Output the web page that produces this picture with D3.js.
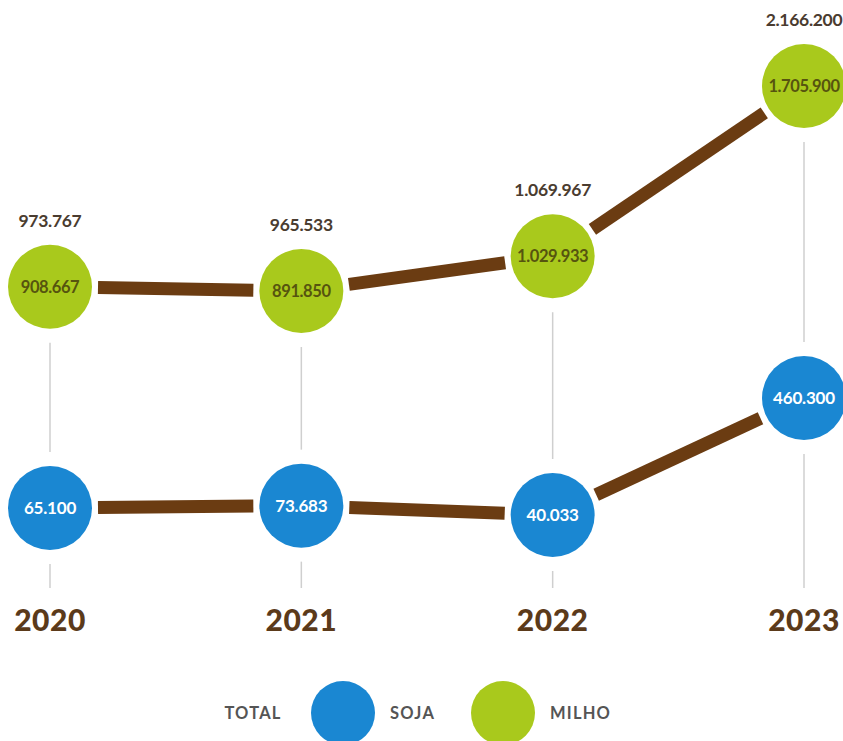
<!DOCTYPE html>
<html>
<head>
<meta charset="utf-8">
<script src="https://cdn.jsdelivr.net/npm/d3@7"></script>
<style>
  html, body { margin: 0; padding: 0; background: #ffffff; }
  svg { display: block; }
  text { font-family: "Lato", "Open Sans", sans-serif; }
</style>
</head>
<body>
<svg id="chart" width="843" height="741"></svg>
<script>
const years = ["2020", "2021", "2022", "2023"];
const soja = [65100, 73683, 40033, 460300];
const milho = [908667, 891850, 1029933, 1705900];
const total = [973767, 965533, 1069967, 2166200];
const legendLabels = ["TOTAL", "SOJA", "MILHO"];

const W = 843, H = 741;
const R = 42;
const colors = { soja: "#1a87d2", milho: "#a9c91c", line: "#6b3c12", year: "#5b3a1a", total: "#4a3c30", milhoText: "#56540f", vline: "#cfcfcf" };

const svg = d3.select("#chart");
const loc = d3.formatLocale({ decimal: ",", thousands: ".", grouping: [3], currency: ["", ""] });
const fmt = loc.format(",d");

const x = d3.scalePoint().domain(years).range([50, 804]);
const yMilho = d3.scaleLinear().domain([891850, 1705900]).range([291, 86]);
const ySoja = d3.scaleLinear().domain([40033, 460300]).range([515, 398]);

const milhoPts = years.map((yr, i) => ({ x: x(yr), y: yMilho(milho[i]), v: milho[i], t: total[i], yr }));
const sojaPts = years.map((yr, i) => ({ x: x(yr), y: ySoja(soja[i]), v: soja[i], yr }));

// vertical guide lines
const gGuides = svg.append("g");
years.forEach((yr, i) => {
  const m = milhoPts[i], s = sojaPts[i];
  gGuides.append("line")
    .attr("x1", m.x).attr("x2", m.x)
    .attr("y1", m.y + R + 14).attr("y2", s.y - R - 14)
    .attr("stroke", colors.vline).attr("stroke-width", 1.5);
  gGuides.append("line")
    .attr("x1", s.x).attr("x2", s.x)
    .attr("y1", s.y + R + 14).attr("y2", 588)
    .attr("stroke", colors.vline).attr("stroke-width", 1.5);
});

// connecting brown segments
function drawSegments(pts) {
  const g = svg.append("g");
  for (let i = 0; i < pts.length - 1; i++) {
    const a = pts[i], b = pts[i + 1];
    const dx = b.x - a.x, dy = b.y - a.y;
    const len = Math.hypot(dx, dy);
    const ux = dx / len, uy = dy / len;
    const gap = R + 6;
    g.append("line")
      .attr("x1", a.x + ux * gap).attr("y1", a.y + uy * gap)
      .attr("x2", b.x - ux * gap).attr("y2", b.y - uy * gap)
      .attr("stroke", colors.line).attr("stroke-width", 13)
      .attr("stroke-linecap", "butt");
  }
}
drawSegments(milhoPts);
drawSegments(sojaPts);

// milho circles
const gM = svg.append("g");
gM.selectAll("circle").data(milhoPts).join("circle")
  .attr("cx", d => d.x).attr("cy", d => d.y).attr("r", R)
  .attr("fill", colors.milho);
gM.selectAll("text.val").data(milhoPts).join("text")
  .attr("class", "val")
  .attr("x", d => d.x).attr("y", d => d.y + 6)
  .attr("text-anchor", "middle")
  .attr("font-size", 16.5).attr("font-weight", 700)
  .attr("letter-spacing", -0.4)
  .attr("fill", colors.milhoText)
  .text(d => fmt(d.v));
gM.selectAll("text.tot").data(milhoPts).join("text")
  .attr("class", "tot")
  .attr("x", d => d.x).attr("y", d => d.y - 60)
  .attr("text-anchor", "middle")
  .attr("font-size", 17.5).attr("font-weight", 700)
  .attr("letter-spacing", -0.3)
  .attr("fill", colors.total)
  .text(d => fmt(d.t));

// soja circles
const gS = svg.append("g");
gS.selectAll("circle").data(sojaPts).join("circle")
  .attr("cx", d => d.x).attr("cy", d => d.y).attr("r", R)
  .attr("fill", colors.soja);
gS.selectAll("text").data(sojaPts).join("text")
  .attr("x", d => d.x).attr("y", d => d.y + 6)
  .attr("text-anchor", "middle")
  .attr("font-size", 17).attr("font-weight", 700)
  .attr("letter-spacing", -0.2)
  .attr("fill", "#ffffff")
  .text(d => fmt(d.v));

// year labels
svg.append("g").selectAll("text").data(years).join("text")
  .attr("x", d => x(d)).attr("y", 631)
  .attr("text-anchor", "middle")
  .attr("font-size", 30).attr("font-weight", 900)
  .attr("letter-spacing", 0.5)
  .attr("fill", colors.year)
  .text(d => d);

// legend
const gL = svg.append("g");
const legY = 713;
const legFont = 16.5;
gL.append("text").attr("x", 253).attr("y", legY + 6).attr("text-anchor", "middle")
  .attr("font-size", legFont).attr("font-weight", 700).attr("letter-spacing", 1.2)
  .attr("fill", "#555555").text(legendLabels[0]);
gL.append("circle").attr("cx", 343).attr("cy", legY).attr("r", 32).attr("fill", colors.soja);
gL.append("text").attr("x", 390).attr("y", legY + 6).attr("text-anchor", "start")
  .attr("font-size", legFont).attr("font-weight", 700).attr("letter-spacing", 1.2)
  .attr("fill", "#555555").text(legendLabels[1]);
gL.append("circle").attr("cx", 503).attr("cy", legY).attr("r", 32).attr("fill", colors.milho);
gL.append("text").attr("x", 550).attr("y", legY + 6).attr("text-anchor", "start")
  .attr("font-size", legFont).attr("font-weight", 700).attr("letter-spacing", 1.2)
  .attr("fill", "#555555").text(legendLabels[2]);
</script>
</body>
</html>
